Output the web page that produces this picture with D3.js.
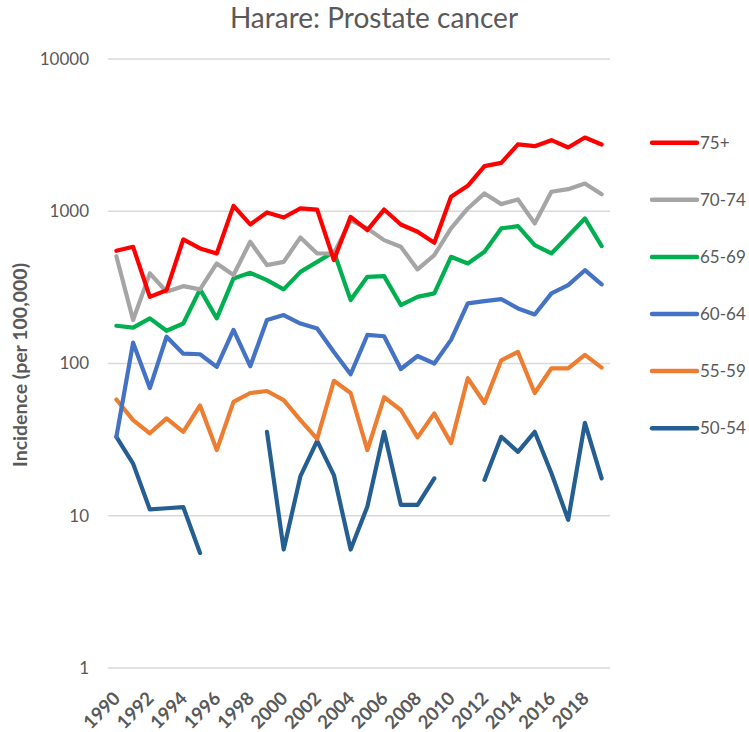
<!DOCTYPE html>
<html>
<head>
<meta charset="utf-8">
<script src="https://cdn.jsdelivr.net/npm/d3@7"></script>
<style>
  body { margin: 0; background: #fff; }
  text { font-family: Lato, "Open Sans", sans-serif; fill: #595959; }
</style>
</head>
<body>
<div id="chart"></div>
<script>
// years on the x axis
var years = d3.range(1990, 2020);

// incidence per 100,000 by age group (null = no value)
var age75plus = [550, 584, 274, 303, 653, 570, 528, 1085, 819, 982, 910, 1043, 1026, 478, 919,
  751, 1026, 819, 733, 621, 1244, 1469, 1978, 2080, 2746, 2675, 2929, 2623, 3050, 2746];
var age70to74 = [507, 193, 391, 296, 322, 307, 454, 381, 630, 443, 465, 673, 528, 528, 874,
  771, 646, 584, 415, 515, 771, 1043, 1310, 1114, 1195, 832, 1343, 1397, 1521, 1294];
var age65to69 = [177, 172, 198, 164, 183, 307, 198, 362, 394, 353, 307, 400, 465, 542, 261,
  371, 375, 242, 274, 289, 502, 454, 542, 771, 798, 599, 528, 687, 897, 590];
var age60to64 = [33, 137, 69, 150, 116, 115, 95, 166, 96, 193, 208, 183, 170, 119, 85,
  154, 151, 92, 112, 100, 143, 248, 257, 265, 230, 210, 289, 327, 410, 331];
var age55to59 = [58, 42.5, 34.8, 43.6, 35.6, 53, 27, 56, 64, 66, 57.5, 42.5, 32, 77, 64,
  27, 60, 49.5, 32.7, 47, 30, 80, 55, 105, 119, 64, 93, 93, 114, 94];
var age50to54 = [33, 22, 11, 11.2, 11.4, 5.7, null, null, null, 35.6, 6.0, 18.2, 31, 18.5, 6.0,
  11.5, 35.6, 11.8, 11.8, 17.6, null, null, 17.2, 33, 26.3, 35.6, 19, 9.4, 40.8, 17.6];

var seriesNames = ["75+", "70-74", "65-69", "60-64", "55-59", "50-54"];
var seriesColors = ["#ff0000", "#a5a5a5", "#00b050", "#4472c4", "#ed7d31", "#255e91"];
var seriesValues = [age75plus, age70to74, age65to69, age60to64, age55to59, age50to54];

var yTicks = [1, 10, 100, 1000, 10000];
var xTickYears = years.filter(function(y) { return (y - 1990) % 2 == 0; });

var width = 749, height = 732;
var margin = {top: 59, right: 139, bottom: 64, left: 108};

var svg = d3.select("#chart").append("svg")
    .attr("width", width)
    .attr("height", height);

var xScale = d3.scalePoint()
    .domain(years)
    .range([margin.left, width - margin.right])
    .padding(0.5);

var yScale = d3.scaleLog()
    .domain([1, 10000])
    .range([height - margin.bottom, margin.top]);

// gridlines
svg.append("g")
  .selectAll("line")
  .data(yTicks)
  .enter().append("line")
    .attr("x1", margin.left)
    .attr("x2", width - margin.right)
    .attr("y1", function(d) { return yScale(d); })
    .attr("y2", function(d) { return yScale(d); })
    .attr("stroke", "#d9d9d9")
    .attr("stroke-width", 1.3);

// y axis labels
var yAxis = d3.axisLeft(yScale)
    .tickValues(yTicks)
    .tickFormat(d3.format("d"))
    .tickSize(0)
    .tickPadding(19);

svg.append("g")
    .attr("class", "y axis")
    .attr("transform", "translate(" + margin.left + ",0)")
    .call(yAxis)
    .call(function(g) { g.select(".domain").remove(); })
    .selectAll("text")
    .style("font-size", "17px")
    .style("font-family", "Lato, sans-serif")
    .attr("fill", "#595959");

// x axis labels, rotated
var xAxis = d3.axisBottom(xScale)
    .tickValues(xTickYears)
    .tickSize(0)
    .tickPadding(0);

svg.append("g")
    .attr("class", "x axis")
    .attr("transform", "translate(0," + (height - margin.bottom) + ")")
    .call(xAxis)
    .call(function(g) { g.select(".domain").remove(); })
    .selectAll("text")
    .attr("text-anchor", "end")
    .attr("y", 0)
    .attr("dy", "0.35em")
    .attr("transform", "translate(0,27) rotate(-45)")
    .style("font-size", "18.5px")
    .style("font-weight", "bold")
    .style("font-family", "Lato, sans-serif")
    .attr("fill", "#595959");

// lines
var line = d3.line()
    .defined(function(d) { return d.value != null; })
    .x(function(d) { return xScale(d.year); })
    .y(function(d) { return yScale(d.value); });

// draw from the bottom series upward so the top ones sit above
for (var i = seriesValues.length - 1; i >= 0; i--) {
  var pts = years.map(function(y, j) { return {year: y, value: seriesValues[i][j]}; });
  svg.append("path")
    .datum(pts)
    .attr("fill", "none")
    .attr("stroke", seriesColors[i])
    .attr("stroke-width", 4.2)
    .attr("stroke-linejoin", "round")
    .attr("stroke-linecap", "round")
    .attr("d", line);
}

// legend
var legend = svg.append("g")
    .selectAll("g")
    .data(seriesNames)
    .enter().append("g")
    .attr("transform", function(d, i) { return "translate(652," + (142.7 + i * 57.1) + ")"; });

legend.append("line")
    .attr("x1", 0)
    .attr("x2", 45)
    .attr("stroke", function(d, i) { return seriesColors[i]; })
    .attr("stroke-width", 4.5)
    .attr("stroke-linecap", "round");

legend.append("text")
    .attr("x", 48)
    .attr("dy", "0.35em")
    .style("font-size", "17px")
    .text(function(d) { return d; });

// title
svg.append("text")
    .attr("x", 374)
    .attr("y", 28)
    .attr("text-anchor", "middle")
    .style("font-size", "28px")
    .text("Harare: Prostate cancer");

// y axis title
svg.append("text")
    .attr("transform", "translate(20,365) rotate(-90)")
    .attr("text-anchor", "middle")
    .attr("dy", "0.35em")
    .style("font-size", "19.5px")
    .style("font-weight", "bold")
    .text("Incidence (per 100,000)");
</script>
</body>
</html>
